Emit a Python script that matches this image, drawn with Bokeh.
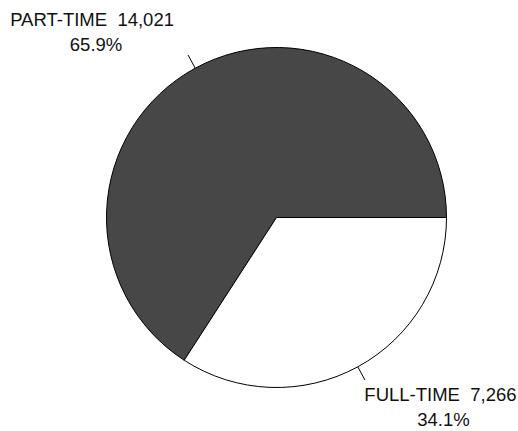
import math
from bokeh.plotting import figure
from bokeh.models import Range1d, ColumnDataSource
from bokeh.core.properties import value
from bokeh.embed import file_html
from bokeh.resources import INLINE

# data
categories = ["PART-TIME", "FULL-TIME"]
counts = [14021, 7266]
colors = ["#474747", "#ffffff"]

W, H = 518, 431
cx, cy, R = 276, 214, 170

total = sum(counts)
fracs = [c / total for c in counts]
starts, ends = [], []
a = 0.0
for f in fracs:
    starts.append(a)
    a += f * 2 * math.pi
    ends.append(a)

p = figure(width=W, height=H, output_backend="svg", toolbar_location=None,
           x_range=Range1d(0, W), y_range=Range1d(0, H), min_border=0)
p.axis.visible = False
p.grid.visible = False
p.outline_line_color = None
p.background_fill_color = "white"
p.border_fill_color = "white"

src = ColumnDataSource(dict(x=[cx] * len(counts), y=[cy] * len(counts),
                            start=starts, end=ends, color=colors))
p.wedge(x="x", y="y", radius=R, radius_units="screen", start_angle="start",
        end_angle="end", direction="anticlock", fill_color="color",
        line_color="black", line_width=1, source=src)

# label offsets (layout): (dx1, dy1, dx2, dy2) relative to leader end
offsets = [(-96, 35.5, -92, 11), (75.5, -14.5, 78.5, -39.5)]
lx0, ly0, lx1, ly1 = [], [], [], []
tx, ty, tt = [], [], []
for i, (s, e) in enumerate(zip(starts, ends)):
    m = (s + e) / 2
    x0 = cx + R * math.cos(m)
    y0 = cy + R * math.sin(m)
    x1 = cx + (R + 15) * math.cos(m)
    y1 = cy + (R + 15) * math.sin(m)
    lx0.append(x0); ly0.append(y0); lx1.append(x1); ly1.append(y1)
    d = offsets[i]
    tx += [x1 + d[0], x1 + d[2]]
    ty += [y1 + d[1], y1 + d[3]]
    tt += [f"{categories[i]}\u00a0\u00a0{counts[i]:,}", f"{fracs[i]*100:.1f}%"]

p.segment(x0=lx0, y0=ly0, x1=lx1, y1=ly1, line_color="black", line_width=1)
p.text(x=tx, y=ty, text=tt, text_font=value("Liberation Sans"),
       text_font_size="18.5px", text_align="center", text_baseline="alphabetic",
       text_color="#111111")

open("out.html", "w").write(file_html(p, INLINE))
